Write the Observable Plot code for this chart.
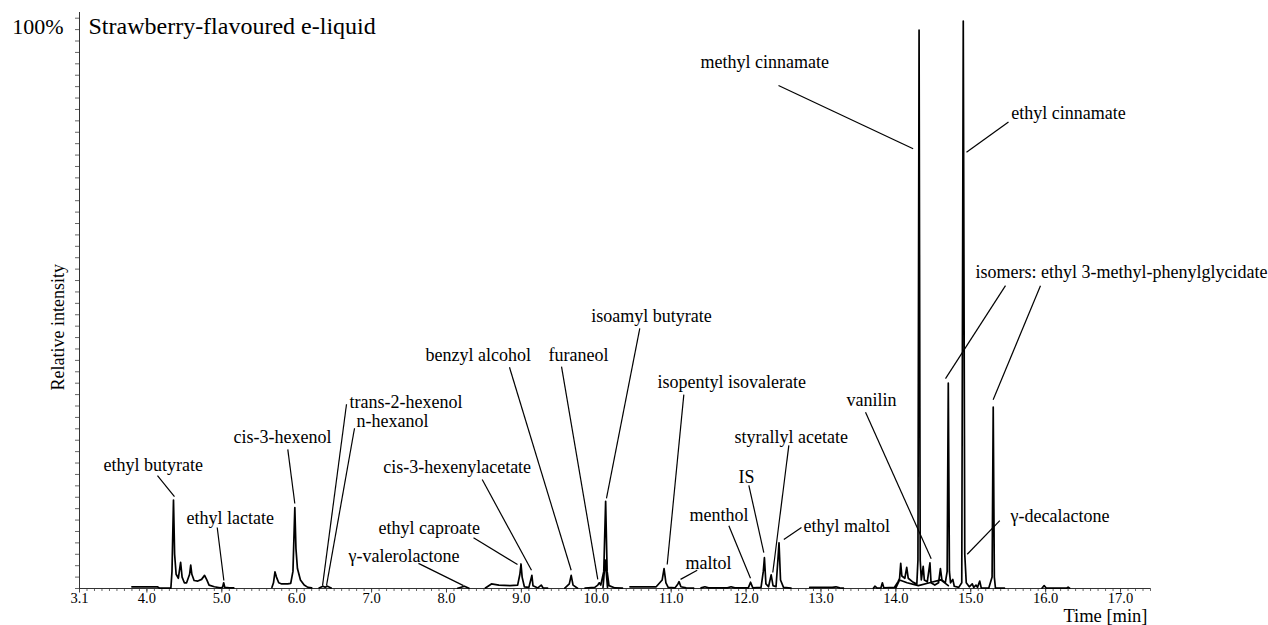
<!DOCTYPE html>
<html>
<head>
<meta charset="utf-8">
<script src="https://cdn.jsdelivr.net/npm/d3@7"></script>
<script src="https://cdn.jsdelivr.net/npm/@observablehq/plot@0.6"></script>
<style>
  body { margin: 0; background: #fff; }
  #chart svg { font-family: "Liberation Serif", "Times New Roman", serif; }
</style>
</head>
<body>
<div id="chart"></div>
<script>
// ---------- Data ----------
const titleText = "Strawberry-flavoured e-liquid";
const xAxisTitle = "Time [min]";
const yAxisTitle = "Relative intensity";
const yTopLabel = "100%";

// x tick values and labels (minutes)
const xTickValues = [3.1, 4, 5, 6, 7, 8, 9, 10, 11, 12, 13, 14, 15, 16, 17];
const xTickLabels = ["3.1", "4.0", "5.0", "6.0", "7.0", "8.0", "9.0", "10.0", "11.0", "12.0", "13.0", "14.0", "15.0", "16.0", "17.0"];
// minor x ticks every 0.1 min, y ticks every 2 %
const xMinorTicks = d3.range(31, 175).map(d => d / 10);
const yTicks = d3.range(0, 101, 2);

// chromatogram trace: time (min) and relative intensity (%); NaN breaks the trace
const traceTime = [
  3.80, 4.14, 4.17, 4.32, 4.335, 4.355, 4.37, 4.39, 4.42, 4.45, 4.47, 4.50, 4.53, 4.57, 4.585, 4.60, 4.63, 4.68, 4.73, 4.77, 4.80, 4.83, 4.90, 4.98, 5.01, 5.025, 5.04, 5.10, 5.16, NaN,
  5.67, 5.69, 5.71, 5.73, 5.76, 5.80, 5.88, 5.92, 5.95, 5.975, 5.99, 6.01, 6.05, 6.10, 6.15, 6.20, NaN,
  6.30, 6.35, 6.38, 6.41, 6.46, NaN,
  8.15, 8.24, 8.30, NaN,
  8.52, 8.60, 8.70, 8.85, 8.95, 8.98, 8.995, 9.01, 9.04, 9.10, 9.125, 9.14, 9.155, 9.22, 9.265, 9.29, 9.35, NaN,
  9.58, 9.64, 9.665, 9.69, 9.75, NaN,
  9.85, 9.98, 10.02, 10.04, 10.06, 10.10, 10.125, 10.145, 10.17, 10.25, 10.35, NaN,
  10.09, 10.12, 10.15, NaN,
  10.45, 10.80, 10.88, 10.905, 10.93, 10.96, 11.05, 11.09, 11.105, 11.13, 11.20, 11.30, NaN,
  11.40, 11.45, 11.50, 11.75, 11.80, 11.85, 12.03, 12.06, 12.09, 12.20, 12.23, 12.245, 12.265, 12.30, 12.335, 12.36, 12.40, 12.425, 12.44, 12.46, 12.50, 12.60, NaN,
  12.85, 13.15, 13.20, 13.25, 13.30, NaN,
  13.70, 13.72, 13.75, 13.80, 13.82, 13.84, 13.98, 14.03, 14.05, 14.065, 14.08, 14.12, 14.145, 14.165, 14.22, 14.28, 14.295, 14.31, 14.325, 14.34, 14.365, 14.38, 14.42, 14.455, 14.47, 14.52, 14.57, 14.595, 14.615, 14.66, 14.685, 14.70, 14.715, 14.73, 14.76, 14.78, 14.84, 14.88, 14.90, 14.92, 14.94, 14.98, 15.02, 15.04, 15.07, 15.09, 15.12, 15.14, 15.24, 15.285, 15.30, 15.315, 15.33, 15.45, NaN,
  14.00, 14.05, 14.15, 14.30, 14.45, 14.60, 14.70, NaN,
  15.95, 15.98, 16.01, 16.10, 16.28, 16.30, 16.32
];
const traceIntensity = [
  0.3, 0.3, 0.05, 0.05, 3, 15.5, 6, 2.5, 1.8, 4.6, 2.0, 1.0, 1.0, 2.5, 4.1, 2.5, 1.4, 1.3, 1.6, 2.3, 1.5, 0.6, 0.3, 0.1, 0.2, 1.0, 0.2, 0.1, 0.1, NaN,
  0.2, 1.0, 2.9, 2.0, 1.0, 0.8, 0.8, 0.9, 3, 14.2, 7, 3.5, 1.5, 0.6, 0.2, 0.1, NaN,
  0.1, 0.4, 0.2, 0.4, 0.1, NaN,
  0.05, 0.4, 0.05, NaN,
  0.1, 0.8, 0.6, 0.5, 0.6, 2.5, 4.3, 2.0, 0.3, 0.2, 1.5, 2.3, 0.5, 0.1, 0.6, 0.1, 0.05, NaN,
  0.05, 0.8, 2.3, 0.6, 0.05, NaN,
  0.05, 0.2, 0.6, 1.0, 0.6, 3, 15.3, 3, 0.5, 0.1, 0.05, NaN,
  0.2, 5.0, 0.2, NaN,
  0.3, 0.3, 1.5, 3.5, 1.0, 0.2, 0.1, 0.8, 1.2, 0.3, 0.1, 0.05, NaN,
  0.1, 0.3, 0.1, 0.1, 0.3, 0.1, 0.1, 1.1, 0.1, 0.2, 3, 5.4, 0.8, 0.3, 2.4, 0.5, 0.3, 5, 8.0, 1.5, 0.2, 0.05, NaN,
  0.2, 0.2, 0.3, 0.1, 0.05, NaN,
  0.05, 0.4, 0.05, 0.1, 1.0, 0.1, 0.2, 1.2, 1.8, 4.4, 2.2, 1.8, 3.7, 1.8, 1.2, 0.8, 5, 97.9, 5, 1.5, 3.9, 1.5, 1.2, 4.5, 1.0, 0.6, 1.0, 3.5, 1.5, 1.0, 3, 36, 3, 1.0, 1.6, 0.4, 0.2, 1, 99.5, 6, 1, 0.3, 0.8, 0.2, 0.6, 0.2, 1.3, 0.1, 0.05, 2, 31.8, 2, 0.05, 0.05, NaN,
  0.1, 1.5, 1.0, 0.5, 1.0, 1.5, 0.5, NaN,
  0.05, 0.5, 0.05, 0.05, 0.05, 0.25, 0.05
];

// peak annotations: text, left edge of text (min), vertical centre (%)
const labelNames = [
  "ethyl butyrate", "ethyl lactate", "cis-3-hexenol", "trans-2-hexenol", "n-hexanol",
  "γ-valerolactone", "ethyl caproate", "cis-3-hexenylacetate", "benzyl alcohol", "furaneol",
  "isoamyl butyrate", "isopentyl isovalerate", "maltol", "menthol", "IS",
  "styrallyl acetate", "ethyl maltol", "vanilin", "methyl cinnamate", "ethyl cinnamate",
  "isomers: ethyl 3-methyl-phenylglycidate", "γ-decalactone"
];
const labelTime = [
  3.42, 4.529, 5.156, 6.705, 6.798,
  6.692, 7.092, 7.155, 7.72, 9.362,
  9.932, 10.818, 11.191, 11.245, 11.899,
  11.846, 12.767, 13.341, 11.392, 15.54,
  15.063, 15.531
];
const labelLevel = [
  21.6, 12.4, 26.5, 32.7, 29.4,
  5.6, 10.5, 21.2, 40.9, 40.9,
  47.7, 36.2, 4.4, 12.8, 19.5,
  26.5, 11.0, 33.0, 92.2, 83.3,
  55.4, 12.6
];

// leader lines: start (near label) and end (near peak), in min / %
const leaderFromTime = [4.141, 4.939, 5.881, 6.665, 6.772, 7.626, 8.361, 8.477, 8.841, 9.536, 10.581, 11.169, 11.348, 11.77, 12.037, 12.571, 12.74, 13.595, 12.433, 15.504, 15.464, 15.931, 15.388];
const leaderFromLevel = [19.8, 10.7, 24.4, 32.3, 28.1, 4.4, 8.9, 19.1, 38.8, 38.9, 45.6, 34.0, 3.2, 11.0, 18.1, 25.1, 10.7, 30.9, 88.2, 81.8, 53.1, 53.1, 11.9];
const leaderToTime = [4.368, 5.027, 5.975, 6.345, 6.398, 8.227, 8.948, 9.135, 9.665, 10.02, 10.136, 10.947, 11.125, 12.059, 12.237, 12.357, 12.504, 14.472, 14.231, 14.943, 14.663, 15.299, 14.953];
const leaderToLevel = [16.1, 1.4, 14.9, 0.5, 0.5, 0.5, 4.2, 3.2, 3.2, 1.6, 15.8, 4.2, 1.6, 1.8, 6.3, 2.8, 8.6, 5.2, 77.1, 76.5, 36.8, 33.1, 6.0];

// ---------- Build tables ----------
const trace = traceTime.map((t, i) => ({t, v: traceIntensity[i]}));
const labels = labelNames.map((name, i) => ({name, t: labelTime[i], v: labelLevel[i]}));
const leaders = leaderFromTime.map((t, i) => ({t1: t, v1: leaderFromLevel[i], t2: leaderToTime[i], v2: leaderToLevel[i]}));

const serif = '"Liberation Serif", "Times New Roman", serif';

const chart = Plot.plot({
  width: 1268,
  height: 625,
  marginLeft: 79,
  marginRight: 118,
  marginTop: 12,
  marginBottom: 37,
  style: {fontFamily: serif, background: "white", color: "black", overflow: "visible"},
  x: {domain: [3.1, 17.4]},
  y: {domain: [0, 101]},
  marks: [
    // axes
    Plot.axisY({ticks: yTicks, tickSize: 4, tickFormat: () => "", label: null, stroke: "#666"}),
    Plot.axisX({ticks: xMinorTicks, tickSize: 3, tickFormat: () => "", label: null, stroke: "#666"}),
    Plot.axisX({ticks: xTickValues, tickSize: 4.5, tickPadding: 0, tickFormat: d => xTickLabels[xTickValues.indexOf(d)], label: null, fontSize: 14.5, stroke: "#444", fill: "black"}),
    Plot.ruleX([3.1], {y1: 0, y2: 101, stroke: "#333", strokeWidth: 1}),
    Plot.ruleY([0], {x1: 3.1, x2: 17.4, stroke: "#333", strokeWidth: 1}),
    // chromatogram
    Plot.line(trace, {x: "t", y: "v", stroke: "black", strokeWidth: 1.7, strokeLinejoin: "round"}),
    // leader lines
    Plot.link(leaders, {x1: "t1", y1: "v1", x2: "t2", y2: "v2", stroke: "black", strokeWidth: 1.2}),
    // peak labels
    Plot.text(labels, {x: "t", y: "v", text: "name", textAnchor: "start", lineAnchor: "middle", fontSize: 18, fill: "black"}),
    // title and axis texts
    Plot.text([titleText], {frameAnchor: "top-left", dx: 9, dy: 13.5, textAnchor: "start", lineAnchor: "middle", fontSize: 24, fill: "black"}),
    Plot.text([yTopLabel], {frameAnchor: "top-left", dx: -16, dy: 14.5, textAnchor: "end", lineAnchor: "middle", fontSize: 22, fill: "black"}),
    Plot.text([yAxisTitle], {x: 3.1, y: 45.8, dx: -21, rotate: -90, textAnchor: "middle", lineAnchor: "middle", fontSize: 18, fill: "black"}),
    Plot.text([xAxisTitle], {frameAnchor: "bottom-right", dx: -3, dy: 28, textAnchor: "end", lineAnchor: "middle", fontSize: 18.5, fill: "black"})
  ]
});
document.getElementById("chart").appendChild(chart);
</script>
</body>
</html>
